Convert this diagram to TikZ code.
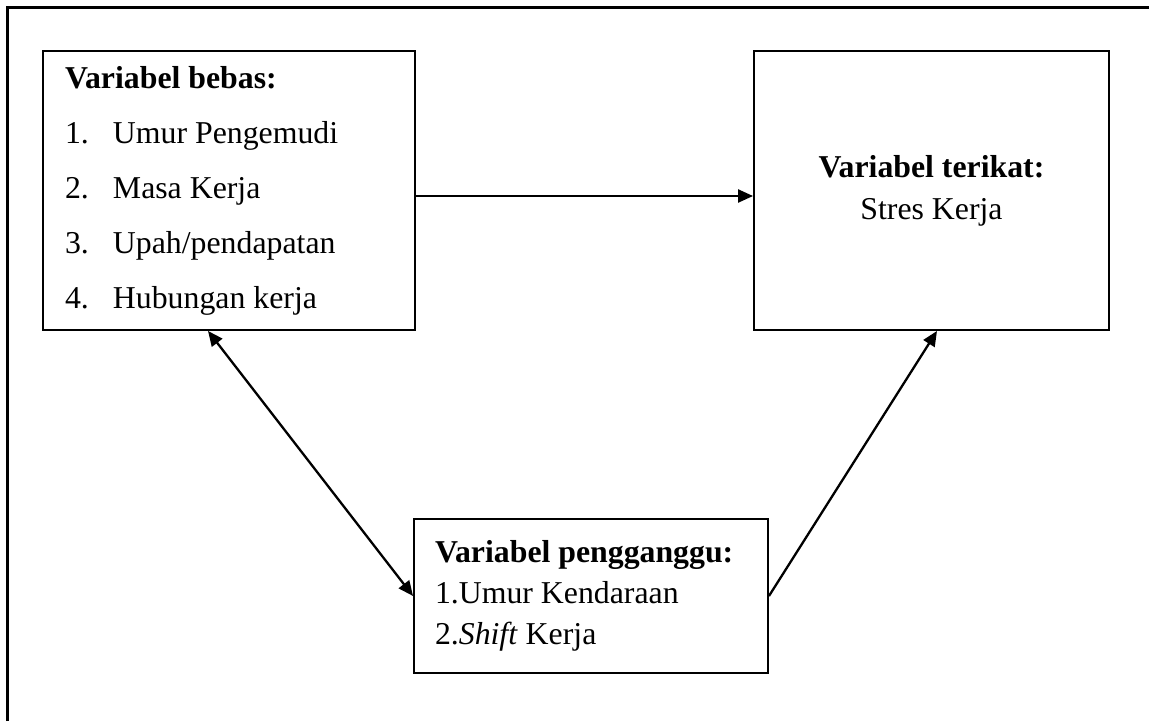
\documentclass[tikz,border=0pt]{standalone}
\usepackage{fontspec}
\setmainfont{Liberation Serif}
\usetikzlibrary{arrows.meta}

\begin{document}
\begin{tikzpicture}[x=1pt, y=-1pt, >={Triangle[length=15pt, width=13pt]},
  kotak/.style={draw, line width=1.9pt, inner sep=0pt, align=flush left},
  panah/.style={line width=2.3pt}]

  \useasboundingbox (0,0) rectangle (1149,721);

  % 1. Bingkai luar (hanya sisi atas dan kiri)
  \draw[line width=2.4pt] (7.5,721) -- (7.5,7.5) -- (1149,7.5);

  % 2. Kotak variabel bebas
  \node[kotak, minimum width=372pt, minimum height=279pt, text width=328pt,
        font={\fontsize{31.8}{55}\selectfont}] (bebas) at (229,190.5)
    {\textbf{Variabel bebas:}\\
     \makebox[48pt][l]{1.}Umur Pengemudi\\
     \makebox[48pt][l]{2.}Masa Kerja\\
     \makebox[48pt][l]{3.}Upah/pendapatan\\
     \makebox[48pt][l]{4.}Hubungan kerja};

  % 3. Kotak variabel terikat
  \node[kotak, minimum width=355pt, minimum height=279pt, align=flush center,
        font={\fontsize{31.8}{42}\selectfont}] (terikat) at (931.5,190.5)
    {\textbf{Variabel terikat:}\\ Stres Kerja};

  % 4. Kotak variabel pengganggu
  \node[kotak, minimum width=354pt, minimum height=154pt, text width=312pt,
        font={\fontsize{31.8}{41}\selectfont}] (pengganggu) at (591,596)
    {\textbf{Variabel pengganggu:}\\
     1.Umur Kendaraan\\
     2.\textit{Shift} Kerja};

  % 5. Panah penghubung
  \draw[panah, ->] ([yshift=-5.5pt]bebas.east) -- ([yshift=-5.5pt]terikat.west);
  \draw[panah, <->] ([xshift=-21pt]bebas.south) -- (pengganggu.west);
  \draw[panah, ->] (pengganggu.east) -- ([xshift=5.5pt]terikat.south);

\end{tikzpicture}
\end{document}
